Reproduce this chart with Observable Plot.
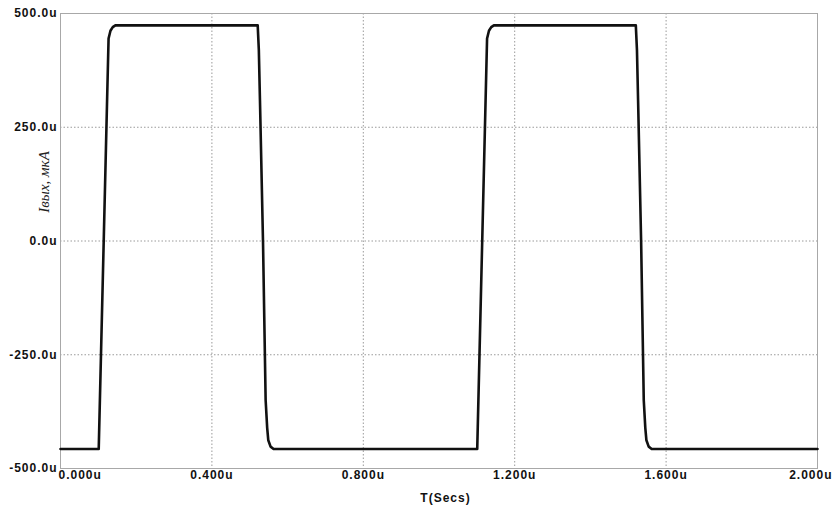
<!DOCTYPE html>
<html>
<head>
<meta charset="utf-8">
<script src="https://cdn.jsdelivr.net/npm/d3@7"></script>
<script src="https://cdn.jsdelivr.net/npm/@observablehq/plot@0.6"></script>
<style>
  html, body { margin: 0; padding: 0; background: #fff; }
  #chart svg text { letter-spacing: 1px; }
</style>
</head>
<body>
<div id="chart"></div>
<script>
// Tick positions and labels
const xTicks = [0, 0.4, 0.8, 1.2, 1.6, 2.0];
const xTickLabels = ["0.000u", "0.400u", "0.800u", "1.200u", "1.600u", "2.000u"];
const yTicks = [-500, -250, 0, 250, 500];
const yTickLabels = ["-500.0u", "-250.0u", "0.0u", "250.0u", "500.0u"];
const xLabel = "T(Secs)";
const yLabel = "Iвых, мкА";

// Waveform samples (time in µs, current in µA)
const timeUs = [
  0, 0.101, 0.127, 0.132, 0.138, 0.145, 0.521, 0.524, 0.527, 0.535, 0.542, 0.546, 0.549, 0.555, 0.563,
  1.101, 1.127, 1.132, 1.138, 1.145, 1.520, 1.523, 1.526, 1.534, 1.541, 1.545, 1.548, 1.554, 1.562, 2.0
];
const currentUA = [
  -457, -457, 445, 462, 470, 474, 474, 420, 309, 0, -350, -410, -438, -452, -457,
  -457, 445, 462, 470, 474, 474, 420, 309, 0, -350, -410, -438, -452, -457, -457
];

const data = timeUs.map((t, i) => ({t, v: currentUA[i]}));
const xt = xTicks.map((x, i) => ({x, label: xTickLabels[i]}));
const yt = yTicks.map((y, i) => ({y, label: yTickLabels[i]}));

const tickFont = {fontFamily: "Liberation Sans, Arial, sans-serif", fontSize: 12, fontWeight: "bold", fill: "#111"};

const chart = Plot.plot({
  width: 833,
  height: 506,
  marginLeft: 60,
  marginRight: 16,
  marginTop: 13,
  marginBottom: 38,
  x: {domain: [0, 2], axis: null},
  y: {domain: [-500, 500], axis: null},
  style: {background: "#fff", fontFamily: "Liberation Sans, Arial, sans-serif"},
  marks: [
    Plot.ruleX(xTicks.slice(1, -1), {stroke: "#9a9a9a", strokeDasharray: "1.5,2", strokeWidth: 1}),
    Plot.ruleY(yTicks.slice(1, -1), {stroke: "#9a9a9a", strokeDasharray: "1.5,2", strokeWidth: 1}),
    Plot.frame({stroke: "#a8a8a8", strokeWidth: 1}),
    Plot.line(data, {x: "t", y: "v", stroke: "#111", strokeWidth: 2.6, strokeLinejoin: "round"}),
    // y tick labels
    Plot.text(yt, {x: () => 0, y: "y", text: "label", textAnchor: "end", dx: -3, ...tickFont}),
    // x tick labels
    Plot.text(xt.slice(0, 1), {x: "x", text: "label", frameAnchor: "bottom", textAnchor: "start", dx: -2, dy: 10, ...tickFont}),
    Plot.text(xt.slice(1, -1), {x: "x", text: "label", frameAnchor: "bottom", textAnchor: "middle", dy: 10, ...tickFont}),
    Plot.text(xt.slice(-1), {x: "x", text: "label", frameAnchor: "bottom", textAnchor: "end", dx: 15, dy: 10, ...tickFont}),
    // axis titles
    Plot.text([xLabel], {frameAnchor: "bottom", text: d => d, dx: 6.5, dy: 33, ...tickFont}),
    Plot.text([yLabel], {frameAnchor: "left", text: d => d, rotate: -90, textAnchor: "middle", lineAnchor: "middle",
      dx: -16, dy: -59,
      fontFamily: "Liberation Serif, Times New Roman, serif", fontStyle: "italic", fontSize: 15, fill: "#222"})
  ]
});

document.getElementById("chart").appendChild(chart);
chart.querySelectorAll("text").forEach(t => {
  if (t.textContent === yLabel) t.style.letterSpacing = "0px";
});
</script>
</body>
</html>
